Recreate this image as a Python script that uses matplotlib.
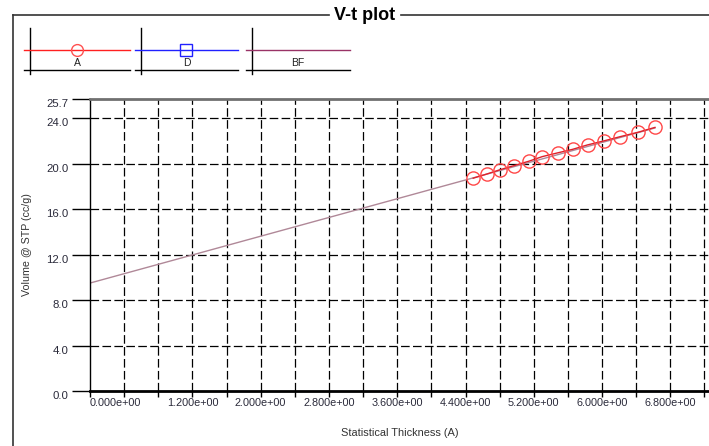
"""
V-t plot: adsorbed volume vs statistical thickness with best-fit line.
"""
import matplotlib
matplotlib.use('Agg')
import matplotlib.pyplot as plt
from matplotlib.lines import Line2D

plt.rcParams['font.family'] = ['Liberation Sans', 'DejaVu Sans']
plt.rcParams['lines.scale_dashes'] = False

# series A (measured points)
t_A = [4.49, 4.655, 4.81, 4.97, 5.14, 5.30, 5.48, 5.655, 5.83, 6.02, 6.215, 6.42, 6.62]
v_A = [18.73, 19.11, 19.49, 19.84, 20.22, 20.63, 20.96, 21.27, 21.66, 22.01, 22.39, 22.77, 23.20]
# series D (empty in this plot)
t_D = []
v_D = []
# best fit line end points
t_BF = [0.0, 6.62]
v_BF = [9.5, 23.15]

x_minor = [i * 0.4 for i in range(19)]
x_labels = ['0.000e+00', '1.200e+00', '2.000e+00', '2.800e+00', '3.600e+00',
            '4.400e+00', '5.200e+00', '6.000e+00', '6.800e+00']
x_label_pos = [0.0, 1.2, 2.0, 2.8, 3.6, 4.4, 5.2, 6.0, 6.8]
y_ticks = [0.0, 4.0, 8.0, 12.0, 16.0, 20.0, 24.0, 25.7]
y_grid = [4.0, 8.0, 12.0, 16.0, 20.0, 24.0]

W, H = 709, 446
fig = plt.figure(figsize=(W / 100, H / 100), dpi=100)
fig.patch.set_facecolor('white')


def fx(x):
    return x / W


def fy(y):
    return 1 - y / H


# axes placement in pixels: left 90, right 713, top 99, bottom 391
ax = fig.add_axes([fx(90), fy(391), fx(713 - 90), (391 - 99) / H])
ax.set_xlim(0, 7.3)
ax.set_ylim(0, 25.7)

dash = (0, (6.2, 2.4))
for x in x_minor[1:]:
    ax.axvline(x, color='black', lw=0.9, ls=dash, zorder=1)
for y in y_grid:
    ax.axhline(y, color='black', lw=0.9, ls=dash, zorder=1)

ax.plot(t_BF, v_BF, color='#b08898', lw=1.0, zorder=2)
ax.plot(t_A, v_A, color='#e0202a', lw=1.0, marker='o', ms=9.5, mfc='none',
        mec='#ff4848', mew=1.0, zorder=3)
ax.plot(t_D, v_D, color='blue', marker='s', mfc='none')

ax.spines['right'].set_visible(False)
ax.spines['top'].set_color('#707070')
ax.spines['top'].set_linewidth(2.0)
ax.spines['left'].set_linewidth(1.0)
ax.spines['bottom'].set_linewidth(2.0)

ax.set_xticks(x_minor)
ax.set_xticklabels([])
ax.tick_params(axis='x', length=4.5, width=1.0, direction='out')
ax.set_yticks(y_ticks)
ax.set_yticklabels([])
ax.tick_params(axis='y', length=13, width=1.0, direction='out')
ax.spines['top'].set_zorder(5)

ytr = ax.get_yaxis_transform()
for y in y_ticks:
    ax.text(-0.034, y, f'{y:.1f}', transform=ytr, ha='right', va='top',
            fontsize=8.2, color='#2a2a3a')
xtr = ax.get_xaxis_transform()
for x, lab in zip(x_label_pos, x_labels):
    ax.text(x, -0.025, lab, transform=xtr, ha='left' if x == 0 else 'center',
            va='top', fontsize=7.8, color='#2a2a3a')

fig.text(fx(400), fy(433), 'Statistical Thickness (A)', ha='center', va='center',
         fontsize=7.9, color='#333333')
fig.text(fx(27.5), fy(245), 'Volume @ STP (cc/g)', ha='center', va='center',
         rotation=90, fontsize=7.7, color='#333333')

# outer frame with title
frame_kw = dict(color='#333333', lw=1.2, transform=fig.transFigure)
fig.add_artist(Line2D([fx(13), fx(329)], [fy(15), fy(15)], **frame_kw))
fig.add_artist(Line2D([fx(401), fx(712)], [fy(15), fy(15)], **frame_kw))
fig.add_artist(Line2D([fx(13), fx(13)], [fy(15), fy(450)], **frame_kw))
fig.text(fx(365), fy(15), 'V-t plot', ha='center', va='center',
         fontsize=13, fontweight='bold')

# legend cells
cells = [('A', '#ff2020', 'o', '#ff5050', 24, 130),
         ('D', '#2020ff', 's', '#2020ff', 135, 238),
         ('BF', '#993366', None, None, 246, 350)]
tf = fig.transFigure
for lab, col, mk, mcol, x0, x1 in cells:
    xc = (x0 + x1) / 2
    fig.add_artist(Line2D([fx(x0 + 6), fx(x0 + 6)], [fy(28), fy(74)],
                          color='black', lw=1.0, transform=tf))
    fig.add_artist(Line2D([fx(x0), fx(x1)], [fy(70), fy(70)],
                          color='black', lw=1.0, transform=tf))
    fig.add_artist(Line2D([fx(x0), fx(x1)], [fy(50), fy(50)],
                          color=col, lw=1.0, transform=tf))
    if mk:
        fig.add_artist(Line2D([fx(xc)], [fy(50)], marker=mk, ms=8.5 if mk == 'o' else 8,
                              mfc='none', mec=mcol, mew=1.0, transform=tf))
    fig.text(fx(xc), fy(63), lab, ha='center', va='center', fontsize=7.5, color='#222222')

fig.savefig('out.png', dpi=100)
